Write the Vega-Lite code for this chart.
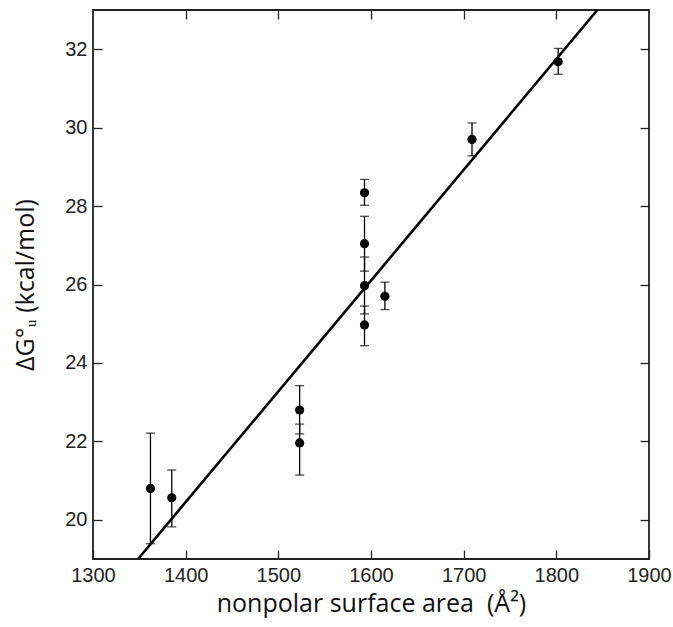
{
  "$schema": "https://vega.github.io/schema/vega-lite/v6.json",
  "width": 556,
  "height": 549,
  "autosize": "none",
  "padding": {"left": 93, "top": 10, "right": 24, "bottom": 68},
  "background": "white",
  "config": {
    "view": {"stroke": "#222", "strokeWidth": 1.8},
    "axis": {
      "grid": false,
      "domain": false,
      "tickColor": "#222",
      "tickWidth": 1.3,
      "tickSize": -9,
      "labelFont": "Liberation Sans",
      "labelFontSize": 20,
      "labelColor": "#222",
      "labelFlush": false,
      "labelOverlap": false,
      "format": "d",
      "titleFont": "Open Sans",
      "titleFontSize": 25,
      "titleFontWeight": "normal",
      "titleColor": "#111"
    }
  },
  "datasets": {
    "pts": [
      {"area": 1362, "dg": 20.80, "lo": 19.39, "hi": 22.21},
      {"area": 1385, "dg": 20.56, "lo": 19.82, "hi": 21.27},
      {"area": 1523, "dg": 22.80, "lo": 22.19, "hi": 23.42},
      {"area": 1523, "dg": 21.96, "lo": 21.14, "hi": 22.44},
      {"area": 1593, "dg": 28.34, "lo": 28.02, "hi": 28.68},
      {"area": 1593, "dg": 27.04, "lo": 26.34, "hi": 27.74},
      {"area": 1593, "dg": 25.97, "lo": 25.25, "hi": 26.70},
      {"area": 1593, "dg": 24.97, "lo": 24.44, "hi": 25.45},
      {"area": 1615, "dg": 25.70, "lo": 25.36, "hi": 26.06},
      {"area": 1709, "dg": 29.70, "lo": 29.28, "hi": 30.12},
      {"area": 1802, "dg": 31.68, "lo": 31.36, "hi": 32.02}
    ],
    "fit": [
      {"area": 1348.6, "dg": 19},
      {"area": 1844.3, "dg": 33}
    ]
  },
  "layer": [
    {
      "layer": [
        {
          "data": {"name": "fit"},
          "mark": {"type": "line", "color": "black", "strokeWidth": 2.6, "clip": true},
          "encoding": {
            "x": {"field": "area", "type": "quantitative", "title": "nonpolar surface area \u00a0(Å²)", "scale": {"domain": [1300, 1900], "nice": false, "zero": false},
                  "axis": {"orient": "bottom", "values": [1300, 1400, 1500, 1600, 1700, 1800, 1900], "labelPadding": 15, "titlePadding": 6}},
            "y": {"field": "dg", "type": "quantitative", "title": "ΔG°ᵤ (kcal/mol)", "scale": {"domain": [19, 33], "nice": false, "zero": false},
                  "axis": {"orient": "left", "values": [20, 22, 24, 26, 28, 30, 32], "labelPadding": 15, "titlePadding": 26}}
          }
        },
        {
          "data": {"name": "pts"},
          "mark": {"type": "errorbar", "color": "black", "thickness": 1.3, "ticks": {"size": 9, "thickness": 1.3, "color": "black"}},
          "encoding": {
            "x": {"field": "area", "type": "quantitative", "title": "nonpolar surface area \u00a0(Å²)"},
            "y": {"field": "lo", "type": "quantitative", "title": "ΔG°ᵤ (kcal/mol)"},
            "y2": {"field": "hi"}
          }
        }
      ]
    },
    {
      "data": {"name": "pts"},
      "mark": {"type": "point", "filled": true, "color": "black", "opacity": 1, "size": 85},
      "encoding": {
        "x": {"field": "area", "type": "quantitative", "scale": {"domain": [1300, 1900], "nice": false, "zero": false},
              "axis": {"orient": "top", "values": [1400, 1500, 1600, 1700, 1800], "labels": false, "title": null}},
        "y": {"field": "dg", "type": "quantitative", "scale": {"domain": [19, 33], "nice": false, "zero": false},
              "axis": {"orient": "right", "values": [20, 22, 24, 26, 28, 30, 32], "labels": false, "title": null}}
      }
    }
  ],
  "resolve": {"scale": {"x": "independent", "y": "independent"}}
}
